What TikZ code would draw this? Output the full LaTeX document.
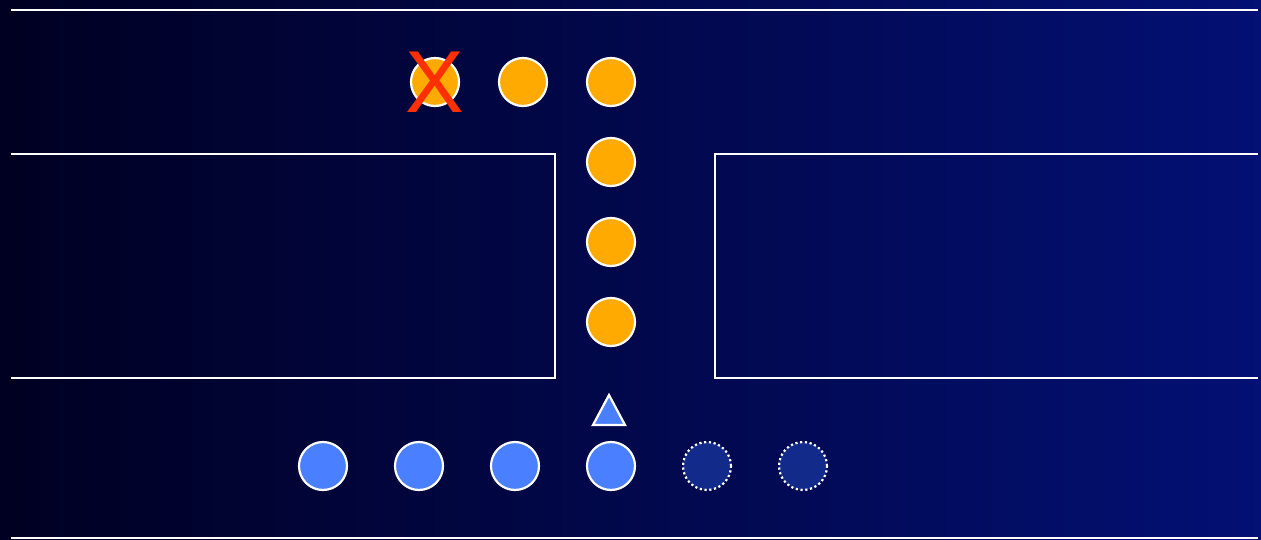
\documentclass[tikz,border=0pt]{standalone}
\usepackage{fontspec}
\setmainfont{Liberation Sans}
\definecolor{bgleft}{RGB}{0,0,34}
\definecolor{bgright}{RGB}{3,16,116}
\definecolor{orng}{RGB}{255,170,0}
\definecolor{blu}{RGB}{74,128,255}
\definecolor{ghost}{RGB}{18,42,138}
\definecolor{xred}{RGB}{255,48,0}
\begin{document}
\begin{tikzpicture}[x=1pt,y=-1pt,
  wall/.style={draw=white,line width=2.4pt},
  opp/.style={circle,fill=orng,draw=white,line width=2.2pt,minimum size=48pt,inner sep=0pt},
  own/.style={circle,fill=blu,draw=white,line width=2.2pt,minimum size=48pt,inner sep=0pt},
  ghostp/.style={circle,fill=ghost,draw=white,line width=2.2pt,dash pattern=on 2.2pt off 2.6pt,minimum size=48pt,inner sep=0pt},
  tri/.style={fill=blu,draw=white,line width=2.2pt,line join=miter}]
\useasboundingbox (0,0) rectangle (1261,540);
\shade[left color=bgleft,right color=bgright] (0,0) rectangle (1261,540);
% walls
\coordinate (t1) at (11,10); \coordinate (t2) at (1258,10);
\coordinate (b1) at (11,538); \coordinate (b2) at (1258,538);
\coordinate (l1) at (11,154); \coordinate (l2) at (555,154);
\coordinate (l3) at (555,378); \coordinate (l4) at (11,378);
\coordinate (r1) at (1258,154); \coordinate (r2) at (715,154);
\coordinate (r3) at (715,378); \coordinate (r4) at (1258,378);
\draw[wall] (t1) -- (t2);
\draw[wall] (b1) -- (b2);
\draw[wall] (l1) -- (l2) -- (l3) -- (l4);
\draw[wall] (r1) -- (r2) -- (r3) -- (r4);
% orange
\node[opp] (o1) at (435,82) {};
\node[opp] (o2) at (523,82) {};
\node[opp] (o3) at (611,82) {};
\node[opp] (o4) at (611,162) {};
\node[opp] (o5) at (611,242) {};
\node[opp] (o6) at (611,322) {};
\node[text=xred,font=\fontsize{88}{88}\selectfont,inner sep=0pt] (x) at (435,82) {X};
% triangle
\coordinate (ta) at (609,395); \coordinate (tb) at (625,425); \coordinate (tc) at (593,425);
\draw[tri] (ta) -- (tb) -- (tc) -- cycle;
% blue
\node[own] (p1) at (323,466) {};
\node[own] (p2) at (419,466) {};
\node[own] (p3) at (515,466) {};
\node[own] (p4) at (611,466) {};
\node[ghostp] (g1) at (707,466) {};
\node[ghostp] (g2) at (803,466) {};
\end{tikzpicture}
\end{document}
